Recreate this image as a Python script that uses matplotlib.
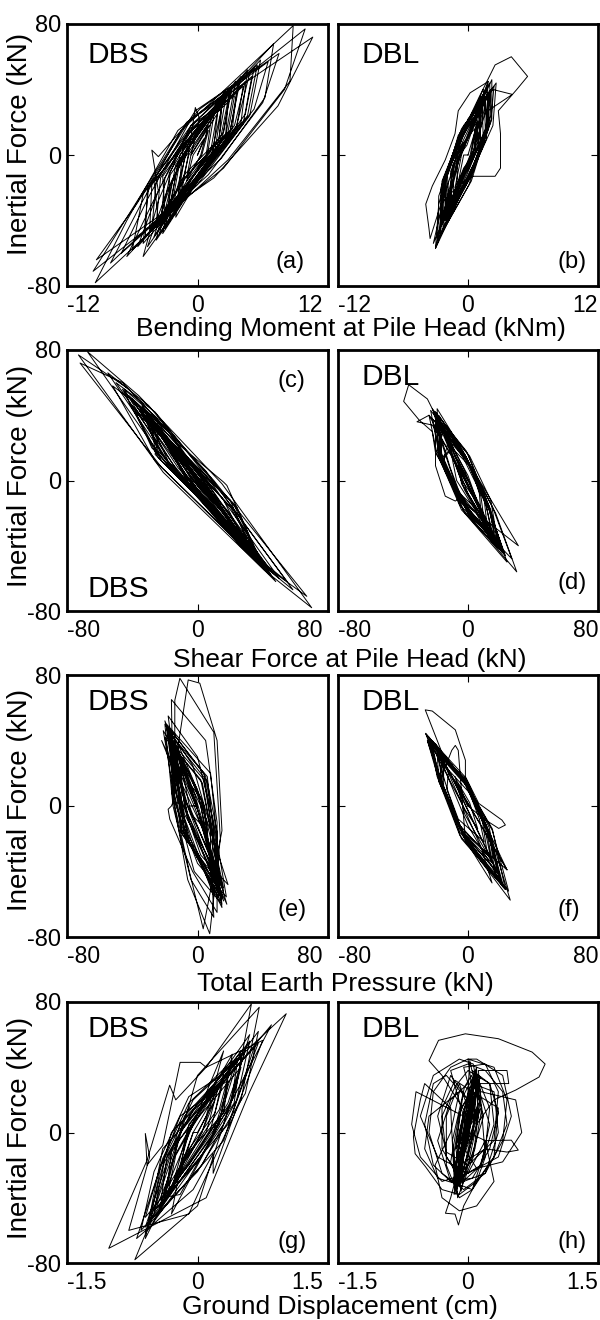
import matplotlib
matplotlib.use("Agg")
import matplotlib.pyplot as plt
from matplotlib.transforms import ScaledTranslation

plt.rcParams["font.family"] = ["Liberation Sans", "DejaVu Sans"]

# ---------------------------------------------------------------------------
# Hysteresis traces (x quantity, inertial force in kN), one list per panel
# ---------------------------------------------------------------------------
# (a) DBS: bending moment at pile head (kNm) vs inertial force
dbs_moment = [
    (0.0, 0), (1.0, 15), (0.4, 0), (-1.0, -14), (-0.6, 0),
    (1.8, 25), (1.2, 2), (-1.8, -26), (-1.2, -2),
    (2.6, 35), (1.8, 4), (-2.6, -36), (-1.8, -4),
    (3.5, 45), (2.6, 12), (0.2, -10), (-3.5, -48), (-2.4, -18), (-0.5, 12),
    (5.2, 53), (4.4, 25), (0.8, -8), (-5.0, -62), (-3.6, -28), (-1.2, 10),
    (7.0, 68), (6.2, 35), (2.2, -2), (-8.0, -66), (-5.2, -30), (-1.5, 15),
    (8.8, 79), (8.5, 45), (2.8, -3), (-9.4, -78), (-6.5, -40), (-1.8, 15),
    (9.9, 77), (8.0, 40), (2.4, -8), (-9.6, -71), (-6.2, -35), (-1.0, 20),
    (10.6, 72), (7.4, 30), (1.5, -14), (-9.3, -64), (-5.6, -30), (-0.2, 27),
    (7.5, 62), (6.0, 32), (1.0, -12), (-7.0, -60), (-4.6, -27), (-0.6, 22),
    (6.5, 57), (5.2, 28), (0.6, -10), (-6.5, -62), (-4.2, -30), (-0.6, 18),
    (5.5, 55), (4.6, 24), (0.2, -12), (-5.5, -56), (-3.6, -22), (-4.2, 3),
    (-3.6, -1), (0.2, 28),
    (4.8, 50), (3.6, 18), (-0.4, -16), (-4.6, -56), (-2.8, -22), (0.6, 22),
    (4.0, 48), (3.0, 15), (-0.6, -14), (-4.0, -50), (-2.4, -16), (0.4, 20),
    (4.2, 42), (3.6, 17), (-0.6, -17), (-4.4, -46), (-4.2, -18), (0.0, 17),
    (3.6, 38), (3.2, 16), (-0.8, -16), (-3.6, -40), (-4.0, -16), (-0.2, 15),
    (5.0, 48), (4.2, 19), (-0.2, -18), (-5.0, -54), (-4.5, -20), (0.2, 18),
    (2.8, 32), (2.6, 13), (-1.0, -13), (-3.0, -34), (-3.2, -13), (-0.4, 13),
    (4.6, 52), (4.0, 20), (-0.4, -20), (-4.8, -50), (-4.6, -20), (-0.2, 20),
    (3.4, 36), (2.8, 14), (-1.2, -14), (-3.8, -42), (-3.4, -14), (-0.8, 14),
    (2.2, 28), (2.0, 10), (-1.2, -12), (-2.6, -30), (-2.6, -11), (-0.6, 11),
    (4.4, 45), (3.4, 18), (-0.5, -14), (-4.2, -45), (-3.8, -16), (-0.4, 17),
    (3.0, 38), (2.4, 14), (-1.0, -16), (-3.4, -44), (-3.0, -14), (-0.6, 15),
    (5.8, 58), (4.8, 24), (0.0, -18), (-6.0, -58), (-5.0, -24), (-0.6, 18),
    (3.2, 42), (2.2, 8), (-3.0, -45), (-1.6, 0),
    (2.4, 36), (1.6, 3), (-2.6, -40), (-1.6, -3),
    (2.0, 34), (1.4, 0), (-2.4, -34), (-1.0, 2),
    (2.6, 40), (1.2, -2), (-2.0, -38), (-1.3, 5),
    (1.6, 28), (0.9, 0), (-1.8, -28), (-0.8, 0),
    (3.0, 40), (2.0, 6), (-3.2, -48), (-2.0, -6),
    (3.8, 46), (3.0, 14), (-3.8, -52), (-2.5, -12),
    (1.3, 24), (0.8, 0), (-1.5, -24), (-0.8, 2),
    (-0.2, 29), (0.2, 22), (-0.6, 0),
    (1.0, 18), (0.3, 0), (-1.0, -16), (-0.4, 0), (0.6, 10), (0.0, 0),
]

# (b) DBL: bending moment at pile head (kNm) vs inertial force
dbl_moment = [
    (0.0, 0), (0.8, 18), (0.3, 0), (-1.2, -20), (-0.6, 0),
    (1.8, 44), (1.9, 18), (0.3, -16), (-2.3, -46), (-2.4, -18), (-0.6, 16),
    (2.1, 40), (1.8, 16), (0.2, -14), (-2.0, -40), (-2.2, -16), (-0.5, 16),
    (1.5, 38), (1.6, 15), (0.1, -18), (-2.6, -50), (-2.5, -20), (-0.7, 14),
    (2.4, 42), (2.1, 20), (0.5, -10), (-1.8, -36), (-2.0, -14), (-0.4, 18),
    (2.3, 40), (4.1, 37), (1.6, 26), (0.4, 0), (-2.2, -38), (-1.0, -4),
    (1.3, 32), (1.4, 12), (-0.1, -12), (-1.7, -34), (-1.9, -12), (-0.6, 12),
    (1.9, 36), (1.7, 10), (0.1, -15), (-2.2, -44), (-2.3, -15), (-0.8, 10),
    (1.0, 35), (2.5, 55), (4.0, 60), (5.5, 48), (4.5, 40), (2.8, 27),
    (3.0, 13), (3.0, -8), (2.5, -13), (0.4, -13), (-0.8, -18), (-2.5, -30),
    (-3.5, -51), (-3.6, -45), (-3.9, -30), (-3.3, -19), (-2.1, -3),
    (-1.2, 13), (-0.9, 27), (0.2, 38), (1.9, 45),
    (1.0, 28), (1.2, 8), (-0.3, -10), (-1.5, -30), (-1.6, -10), (-0.5, 8),
    (2.2, 46), (2.2, 22), (0.6, -6), (-2.8, -52), (-2.7, -25), (-1.1, 5),
    (1.6, 34), (1.9, 16), (0.4, -8), (-1.9, -38), (-2.1, -14), (-0.8, 8),
    (1.2, 36), (0.6, 4), (-3.0, -57), (-2.2, -34), (-0.6, 2),
    (0.8, 22), (1.0, 5), (-0.4, -10), (-1.3, -24), (-1.4, -6), (-0.3, 8),
    (2.0, 38), (1.5, 8), (-0.4, -18), (-2.4, -42), (-2.4, -22), (-1.0, 4),
    (1.4, 40), (1.8, 18), (0.2, -12), (-3.0, -57), (-2.7, -30), (-0.9, 12),
    (2.6, 44), (2.3, 18), (0.8, -4), (-1.6, -32), (-1.5, -10), (0.0, 22),
    (1.1, 30), (1.1, 6), (-0.5, -14), (-2.1, -40), (-2.1, -12), (-0.6, 6),
    (0.6, 16), (0.7, 2), (-0.4, -8), (-1.0, -18), (-1.0, -2), (-0.1, 6),
    (1.7, 40), (2.0, 20), (0.5, -6), (-2.5, -48), (-2.4, -16), (-0.6, 14),
    (2.0, 44), (2.1, 24), (0.5, -2), (-2.6, -45), (-2.2, -15), (-0.4, 12),
    (1.5, 38), (0.6, 4), (-2.4, -40), (-1.2, -6),
    (1.3, 30), (0.5, 2), (-1.8, -30), (-0.8, -2),
    (1.7, 36), (0.9, 6), (-2.0, -36), (-1.0, -4),
    (1.6, 40), (0.9, 8), (-3.2, -54), (-2.2, -25), (-1.0, 0),
    (0.8, 20), (0.2, 0), (-1.0, -20), (-0.4, 0), (0.0, 0),
]

# (c) DBS: shear force at pile head (kN) vs inertial force
dbs_shear = [
    (0, 0), (-15, 18), (0, 2), (14, -18), (-2, -1),
    (-22, 28), (-4, 6), (20, -25), (2, -4),
    (-30, 40), (-8, 8), (30, -40), (2, -6),
    (-38, 48), (-20, 28), (5, -2), (38, -50), (18, -28), (-12, 10),
    (-42, 52), (-18, 30), (6, -4), (42, -55), (22, -35), (-15, 10),
    (-50, 60), (-26, 42), (6, 2), (50, -60), (27, -40), (-16, 8),
    (-55, 66), (-30, 46), (9, 0), (55, -62), (30, -42), (-19, 10),
    (-67.5, 79), (-36, 52), (15, -2), (70, -78), (41, -55), (-21, 5),
    (-73, 77), (-42, 56), (10, 0), (67, -71), (38, -50), (-22, 8),
    (-72, 72), (-46, 60), (5, 6), (58.5, -67), (34, -47), (-26, 12),
    (-52, 58), (-28, 40), (3, 3), (48, -62), (26, -40), (-16, 8),
    (-45, 56), (-22, 36), (8, -5), (45, -58), (25, -38), (-12, 5),
    (-40, 50), (-15, 25), (16, -1), (18, -3), (40, -52), (20, -30), (-12, 8),
    (-36, 44), (-12, 18), (20, -16), (38, -48), (8, -18), (-22, 16),
    (-32, 38), (-8, 16), (22, -14), (34, -40), (6, -16), (-24, 14),
    (-42, 48), (-16, 20), (18, -18), (44, -54), (12, -20), (-26, 18),
    (-28, 34), (-6, 14), (20, -12), (30, -36), (4, -14), (-22, 12),
    (-46, 56), (-20, 24), (16, -20), (46, -56), (14, -22), (-28, 20),
    (-38, 42), (-10, 16), (24, -16), (36, -44), (6, -16), (-26, 16),
    (-24, 30), (-4, 12), (16, -12), (26, -32), (2, -12), (-18, 12),
    (-34, 46), (-14, 20), (22, -18), (40, -50), (10, -18), (-24, 18),
    (-35, 45), (0, 5), (35, -46), (-5, -2),
    (-30, 40), (2, 0), (30, -40), (-6, 2),
    (-32, 42), (-2, 8), (32, -44), (-4, -5),
    (-25, 35), (0, 2), (28, -36), (-5, 0),
    (-28, 36), (-3, 6), (36, -48), (0, -6),
    (-20, 28), (1, 0), (24, -32), (-4, -2),
    (-18, 22), (2, 0), (18, -22), (-2, 2),
    (-12, 15), (1, 0), (12, -14), (-1, 0), (0, 0),
]

# (d) DBL: shear force at pile head (kN) vs inertial force
dbl_shear = [
    (0, 0), (-8, 15), (-2, 2), (6, -14), (-3, -1),
    (-22, 44), (-1, 18), (13, -16), (17, -39), (-2, -16), (-18, 16),
    (-20, 42), (0, 16), (14, -18), (20, -42), (-1, -18), (-17, 18),
    (-18, 38), (-1, 14), (11, -14), (15, -35), (-4, -14), (-16, 14),
    (-10, 20), (-25, 50), (-36.5, 58.7), (-39.6, 48.5), (-30, 37), (-22, 30),
    (-20, 17), (-20, 9), (-14, -9.6), (-7.8, -12.6), (-3.7, -9.6), (5, -20),
    (14.8, -38), (8, -20), (-2, 0),
    (-24, 40), (-2, 16), (13, -16), (22, -45), (-3, -18), (-19, 16),
    (-24, 40), (-31.4, 36), (-22, 34), (-8, 12), (22, -45), (0, -8),
    (-15, 30), (0, 12), (10, -12), (12, -30), (-5, -12), (-15, 12),
    (-12, 25), (1, 10), (8, -10), (10, -25), (-5, -10), (-12, 10),
    (-20, 35), (-1, 14), (15, -16), (27, -48), (0, -20), (-16, 14),
    (-18, 40), (-2, 16), (17, -20), (30, -56), (1, -22), (-17, 16),
    (-16, 32), (0, 12), (12, -14), (18, -38), (-3, -14), (-16, 12),
    (-22, 38), (-2, 15), (16, -15), (31, -40), (0, -16), (-18, 15),
    (-19, 44), (-3, 18), (14, -20), (24, -50), (-2, -20), (-19, 18),
    (-14, 34), (-1, 13), (11, -15), (16, -36), (-5, -15), (-15, 13),
    (-10, 20), (2, 8), (7, -8), (8, -20), (-5, -8), (-11, 8),
    (-21, 41), (-3, 14), (13, -18), (23, -46), (-1, -16), (-18, 14),
    (-17, 36), (1, 15), (14, -12), (19, -42), (-4, -18), (-17, 12),
    (-23, 43), (-4, 18), (12, -14), (21, -44), (-2, -14), (-20, 17),
    (-20, 42), (-6, 10), (17, -39), (-2, -6),
    (-16, 32), (0, 0), (18, -38), (-3, -3),
    (-18, 38), (-3, 8), (15, -35), (-7, 0),
    (-12, 25), (0, 3), (10, -25), (-4, -2),
    (-6, 12), (0, 0),
]

# (e) DBS: total earth pressure (kN) vs inertial force
dbs_pressure = [
    (0, 0), (-6, 15), (2, 5), (6, -15), (-4, -5),
    (-10, 25), (2, 0), (8, -30), (-6, 0),
    (-14, 30), (0, -2), (12, -40), (-8, 5),
    (-13, 32), (1, -5), (10, -42), (-7, 2),
    (-17, 35), (-2, 0), (14, -45), (-8, -5),
    (-18, 42), (2, 5), (16, -52), (-6, -5),
    (-17, 44), (6, 18), (10, -18), (12, -52), (-8, -18), (-12, 18),
    (-15, 38), (4, 16), (9, -16), (10, -46), (-10, -16), (-14, 16),
    (-19, 50), (8, 20), (12, -20), (14, -58), (-6, -20), (-13, 20),
    (-13, 34), (3, 14), (8, -14), (8, -42), (-10, -14), (-12, 14),
    (-16, 46), (5, 18), (11, -20), (13, -56), (-7, -18), (-15, 18),
    (-20, 42), (2, 16), (9, -18), (16, -50), (-9, -18), (-16, 16),
    (-14, 40), (6, 15), (12, -16), (11, -48), (-8, -14), (-13, 14),
    (-18, 48), (4, 20), (10, -22), (15, -62), (-5, -22), (-14, 20),
    (-22, 40), (-8, 10), (6, -20), (14, -55), (-1, -30), (-14, 10),
    (-19, 48), (-6, 15), (8, -25), (10, -68), (-4, -45), (-15, 0),
    (-20, 50), (-3, 25), (10, -20), (15, -60), (-2, -40), (-14, 5),
    (-21, 46), (-5, 20), (8, -15), (18.7, -48), (2, -30), (-12, 10),
    (-18, 55), (0, 30), (10, -10), (17.7, -55.5), (0, -35), (-15, 5),
    (-16, 65), (5, 40), (12, -10), (12, -65), (-3, -40), (-17, -8),
    (-18, -2), (-16, 0), (-14, 5),
    (-13.9, 64.6), (-10.8, 78), (10, 45), (14, -20), (7.5, -78), (-6, -45), (-16, 10),
    (-5.7, 77), (1.4, 75), (12, 40), (15, -15), (3.5, -75), (-5, -40), (-15, 5),
    (-16, 45), (-2, 8), (18, -60), (-5, -10),
    (-20, 52), (-4, 12), (16, -58), (-6, -8),
    (-15, 40), (0, 10), (12, -50), (-8, 0),
    (-12, 38), (4, 0), (10, -55), (-10, -2),
    (-10, 30), (4, 0), (8, -32), (-5, 0), (0, 0),
]

# (f) DBL: total earth pressure (kN) vs inertial force
dbl_pressure = [
    (0, 0), (-6, 14), (1, 2), (6, -14), (-2, -2),
    (-26, 44), (-2, 18), (13, -16), (22, -50), (-2, -18), (-18, 16),
    (-25, 40), (-1, 16), (14, -18), (24, -39), (-3, -16), (-17, 16),
    (-24, 42), (-3, 17), (15, -14), (23, -51), (-4, -20), (-18, 18),
    (-22, 38), (-1, 15), (13, -16), (20, -45), (-3, -18), (-16, 14),
    (-15, 30), (-26.3, 58.7), (-22, 58), (-7.8, 46.5), (-5, 38), (-1.6, 28),
    (-1.6, 18), (6.6, 1.6), (20.9, -8.6), (23, -11.6), (18.9, -13.7), (10, -8), (0, 0),
    (-20, 36), (0, 14), (12, -14), (18, -40), (-4, -16), (-16, 12),
    (-18, 32), (1, 12), (11, -12), (15, -35), (-5, -14), (-15, 12),
    (-15, 28), (1, 10), (9, -10), (12, -30), (-5, -12), (-13, 10),
    (-12, 22), (1, 8), (7, -8), (10, -22), (-6, -8), (-12, 8),
    (-22, 40), (-3, 16), (14, -18), (26, -57.5), (-1, -22), (-17, 16),
    (-10, 34), (-7.8, 37), (-6, 34), (-1.6, -20.8), (14.8, -47), (8, -25),
    (-20, 38), (-2, 15), (13, -16), (17, -44), (-5, -16), (-17, 14),
    (-16, 30), (0, 12), (10, -12), (14, -32), (-5, -12), (-15, 12),
    (-26, 44.4), (-4, 18), (12, -16), (21, -48), (-5, -18), (-19, 18),
    (-23, 39), (-1, 14), (15, -15), (25, -52), (-2, -20), (-18, 15),
    (-19, 34), (0, 13), (13, -13), (19, -42), (-4, -15), (-16, 13),
    (-25, 40), (-8, 15), (24, -39), (4, -5),
    (-24, 42), (-12, 22), (23, -51), (0, -12),
    (-20, 36), (-6, 10), (18, -40), (-2, -5),
    (-8, 18), (0, 0),
]

# (g) DBS: ground displacement (cm) vs inertial force
dbs_ground = [
    (0.0, 0), (0.2, 20), (0.05, 0), (-0.2, -22), (-0.05, 0),
    (0.3, 32), (0.15, 2), (-0.3, -35), (-0.12, 0),
    (0.4, 48), (0.25, 5), (-0.4, -45), (-0.2, 0),
    (0.6, 60), (0.3, 5), (-0.6, -62), (-0.3, 0),
    (0.5, 46), (0.42, 18), (0.0, -18), (-0.5, -48), (-0.38, -18), (0.0, 18),
    (0.45, 40), (0.38, 16), (-0.05, -16), (-0.42, -42), (-0.35, -14), (-0.05, 14),
    (0.6, 56), (0.45, 20), (0.05, -20), (-0.55, -56), (-0.42, -20), (-0.05, 20),
    (1.02, 72.8), (0.6, 25), (0.1, -40), (-1.02, -71), (-0.58, -17),
    (-0.32, 29), (-0.25, 20), (0.1, 40),
    (0.62, 78.9), (0.45, 30), (0.0, -45), (-0.72, -78), (-0.35, -30), (0.0, 35),
    (0.71, 76.8), (0.5, 20), (-0.1, -50), (-0.79, -60), (-0.55, -15),
    (-0.6, -0.6), (-0.58, -20), (-0.4, -8), (-0.2, 43), (0.03, 43), (0.1, 40),
    (0.75, 56.5), (0.45, 15), (0.18, -25), (0.18, -13), (-0.05, -35),
    (-0.7, -65), (-0.45, -25), (-0.2, 10),
    (0.35, 32), (0.3, 12), (-0.1, -12), (-0.35, -34), (-0.3, -12), (0.0, 12),
    (0.55, 50), (0.35, 18), (-0.1, -20), (-0.6, -52), (-0.4, -16), (-0.1, 18),
    (0.4, 44), (0.25, 14), (-0.15, -18), (-0.45, -50), (-0.28, -16), (0.05, 16),
    (0.7, 62), (0.55, 24), (0.0, -24), (-0.65, -60), (-0.5, -24), (-0.1, 22),
    (0.3, 36), (0.2, 12), (-0.15, -14), (-0.35, -40), (-0.25, -14), (0.05, 14),
    (0.5, 50), (0.2, 0), (-0.55, -55), (-0.2, 5),
    (0.65, 52), (0.3, -5), (-0.45, -50), (-0.15, 10),
    (0.45, 45), (0.15, -5), (-0.3, -50), (-0.1, 5),
    (0.85, 66), (0.4, 20), (-0.6, -58), (-0.3, -10),
    (0.5, 40), (0.4, 20), (-0.2, -38), (-0.4, -40),
    (0.3, 50), (0.1, 10), (-0.6, -65), (-0.4, -10),
    (0.7, 55), (0.35, 5), (-0.5, -48), (-0.2, 0),
    (0.25, 30), (0.1, 0), (-0.25, -30), (-0.1, 0),
    (0.2, 25), (0.05, 0), (-0.2, -25), (-0.05, 0), (0.0, 0),
]

# (h) DBL: ground displacement (cm) vs inertial force
dbl_ground = [
    (0.0, 0), (0.05, 20), (-0.1, -15), (0.1, 25), (-0.12, -25), (0.08, 30),
    (-0.15, -20), (0.12, 18), (-0.08, -30), (0.05, 32), (-0.1, -22),
    (0.15, 15), (-0.14, -10), (0.02, 28), (-0.11, -21), (0.1, 10),
    (0.0, 10), (-0.3, 35), (-0.45, 44), (-0.34, 56.5), (-0.03, 60.5),
    (0.35, 57.5), (0.74, 49.3), (0.89, 42), (0.82, 34), (0.55, 26),
    (0.3, 20), (0.1, 5),
    (0.0, 45), (0.3, 40), (0.45, 20), (0.4, -5), (0.2, -25), (-0.05, -35),
    (-0.3, -25), (-0.45, 0), (-0.4, 25), (-0.2, 40), (0.0, 45),
    (0.1, 45), (0.4, 35), (0.5, 10), (0.35, -15), (0.0, -25), (-0.35, -15),
    (-0.55, 10), (-0.4, 35), (-0.1, 45),
    (0.06, 42), (0.14, 20), (0.06, -15), (-0.12, -40), (-0.16, -12), (-0.06, 22),
    (0.1, 38), (0.12, 10), (-0.02, -25), (-0.14, -35), (-0.18, -5), (-0.04, 28),
    (0.04, 35), (0.16, 15), (0.08, -10), (-0.08, -30), (-0.14, -10), (-0.08, 15),
    (0.12, 32), (0.1, 5), (-0.04, -20), (-0.16, -38), (-0.12, -10), (0.0, 25),
    (0.02, 44), (0.1, 25), (0.04, -5), (-0.1, -32), (-0.2, -18), (-0.1, 12),
    (0.08, 30), (0.18, 10), (0.02, -18), (-0.12, -28), (-0.1, 0), (-0.02, 20),
    (0.1, 40), (0.06, 0), (-0.08, -36), (-0.14, -20), (-0.04, 10),
    (0.08, 35), (-0.05, -5), (-0.15, -35), (0.0, 5), (0.1, 38), (-0.02, 0),
    (-0.12, -32), (0.05, 10), (0.12, 30), (-0.1, -25), (-0.18, -30),
    (0.0, -5), (0.08, 22), (0.14, 34), (-0.06, -12), (-0.16, -28),
    (-0.2, 15), (-0.5, 30), (-0.55, 20), (-0.63, -2.6), (-0.61, -13),
    (-0.49, -21), (-0.3, -35), (-0.1, -38), (0.1, -30), (0.3, -15),
    (0.45, 5), (0.4, 25), (0.2, 38), (0.0, 42), (-0.2, 38),
    (0.0, 0), (0.2, -5), (0.5, -4.7), (0.58, -10.8), (0.45, -12), (0.2, -10),
    (-0.1, -20), (-0.2, -40), (-0.26, -49.5), (-0.15, -50), (-0.11, -56.7),
    (-0.05, -45), (0.1, -30), (0.2, -15),
    (0.12, 38), (0.45, 38), (0.47, 30),
    (0.05, 30), (0.3, 25), (0.35, 0), (0.2, -25), (-0.05, -30), (-0.25, -15),
    (-0.3, 10), (-0.15, 28),
    (0.0, 38), (0.25, 30), (0.3, 5), (0.15, -20), (-0.1, -28), (-0.3, -10),
    (-0.3, 15), (-0.15, 32),
    (0.05, 25), (0.35, 15), (0.3, -15), (0.05, -35), (-0.2, -30), (-0.35, -5),
    (-0.2, 20), (0.0, 30),
    (-0.05, 40), (0.2, 42), (0.35, 25), (0.3, -5), (0.0, -20), (-0.25, -12),
    (-0.35, 10), (-0.2, 35),
    (0.0, 20), (-0.25, 35), (-0.4, 30), (-0.5, 5), (-0.4, -20), (-0.2, -30),
    (0.05, -28), (0.25, -10), (0.35, 12), (0.25, 30), (0.05, 38),
    (0.15, 25), (0.55, 20), (0.62, 0), (0.4, -18), (0.1, -22), (-0.1, -5),
    (-0.05, 10), (-0.6, 25), (-0.65, 5), (-0.55, -15), (-0.3, -30), (0.0, -25),
    (0.2, -5), (0.3, -30), (0.1, -45), (-0.1, -48), (-0.3, -40), (-0.38, -20),
    (-0.2, 0),
    (-0.1, 25), (-0.45, 10), (-0.5, -10), (-0.35, -28), (-0.1, -32),
    (0.15, -20), (0.25, 5), (0.15, 22),
    (0.1, 35), (0.25, 15), (0.2, -10), (0.05, -35), (-0.1, -40),
    (-0.25, -20), (-0.25, 10), (-0.1, 30),
    (0.02, 12), (0.1, 28), (-0.14, -38), (0.04, 18), (0.1, 40), (-0.05, 0),
    (-0.1, -30), (0.06, 22), (-0.12, -18), (0.09, 26), (-0.1, -26), (0.0, 0),
]

# Axis limits / tick labels for each horizontal quantity
moment_lim, moment_ticks = 12, ["-12", "0", "12"]
force_lim, force_ticks = 80, ["-80", "0", "80"]
disp_lim, disp_ticks = 1.5, ["-1.5", "0", "1.5"]
inertia_ticks = ["-80", "0", "80"]

row_titles = [
    "Bending Moment at Pile Head (kNm)",
    "Shear Force at Pile Head (kN)",
    "Total Earth Pressure (kN)",
    "Ground Displacement (cm)",
]
y_title = "Inertial Force (kN)"

# ---------------------------------------------------------------------------
# Layout (pixel geometry of the 600 x 1320 canvas)
# ---------------------------------------------------------------------------
W, H = 600, 1320
fig = plt.figure(figsize=(W / 100, H / 100), dpi=100)

cols = [(67, 328), (338, 598)]
rows = [(24, 286), (350, 611), (675, 937), (1002, 1263)]
title_pos = [(351, 336), (350, 667), (345, 991), (340, 1314)]
ylab_center = [144, 476, 800, 1128]

# per panel: data, limit, tick labels, tag text, tag pos, letter, letter pos
panels = [
    [(dbs_moment, moment_lim, moment_ticks, "DBS", (0.077, 0.851), "(a)", (0.912, 0.067)),
     (dbl_moment, moment_lim, moment_ticks, "DBL", (0.092, 0.851), "(b)", (0.958, 0.067))],
    [(dbs_shear, force_lim, force_ticks, "DBS", (0.077, 0.054), "(c)", (0.912, 0.858)),
     (dbl_shear, force_lim, force_ticks, "DBL", (0.092, 0.866), "(d)", (0.958, 0.086))],
    [(dbs_pressure, force_lim, force_ticks, "DBS", (0.077, 0.866), "(e)", (0.920, 0.082)),
     (dbl_pressure, force_lim, force_ticks, "DBL", (0.092, 0.866), "(f)", (0.931, 0.082))],
    [(dbs_ground, disp_lim, disp_ticks, "DBS", (0.077, 0.866), "(g)", (0.920, 0.059)),
     (dbl_ground, disp_lim, disp_ticks, "DBL", (0.092, 0.866), "(h)", (0.958, 0.059))],
]

for r, (top, bot) in enumerate(rows):
    for c, (left, right) in enumerate(cols):
        data, lim, xt, tag, tag_xy, letter, letter_xy = panels[r][c]
        ax = fig.add_axes([left / W, 1 - bot / H, (right - left) / W, (bot - top) / H])
        xs = [p[0] for p in data]
        ys = [p[1] for p in data]
        ax.plot(xs, ys, color="black", lw=0.7, solid_joinstyle="round")

        ax.set_xlim(-lim, lim)
        ax.set_ylim(-80, 80)
        ax.set_xticks([-lim, 0, lim])
        ax.set_xticklabels(xt)
        ax.set_yticks([-80, 0, 80])
        ax.set_yticklabels(inertia_ticks if c == 0 else [])
        ax.tick_params(direction="in", length=5, width=0.8, top=True, right=True)
        ax.tick_params(axis="x", pad=5.5, labelsize=16.5)
        ax.tick_params(axis="y", pad=4, labelsize=17)
        for sp in ax.spines.values():
            sp.set_linewidth(2)

        lbls = ax.get_xticklabels()
        lbls[0].set_horizontalalignment("left")
        lbls[-1].set_horizontalalignment("right")
        if c == 0:
            lbls[-1].set_transform(lbls[-1].get_transform()
                                   + ScaledTranslation(-5 / 100, 0, fig.dpi_scale_trans))

        ax.text(tag_xy[0], tag_xy[1], tag, transform=ax.transAxes,
                fontsize=21.5, ha="left", va="baseline")
        ax.text(letter_xy[0], letter_xy[1], letter, transform=ax.transAxes,
                fontsize=17, ha="right", va="baseline")

    fig.text(title_pos[r][0] / W, 1 - title_pos[r][1] / H, row_titles[r],
             fontsize=19, ha="center", va="baseline")
    fig.text(20 / W, 1 - ylab_center[r] / H, y_title, rotation=90,
             fontsize=20, ha="center", va="center")

fig.savefig("out.png", dpi=100)
